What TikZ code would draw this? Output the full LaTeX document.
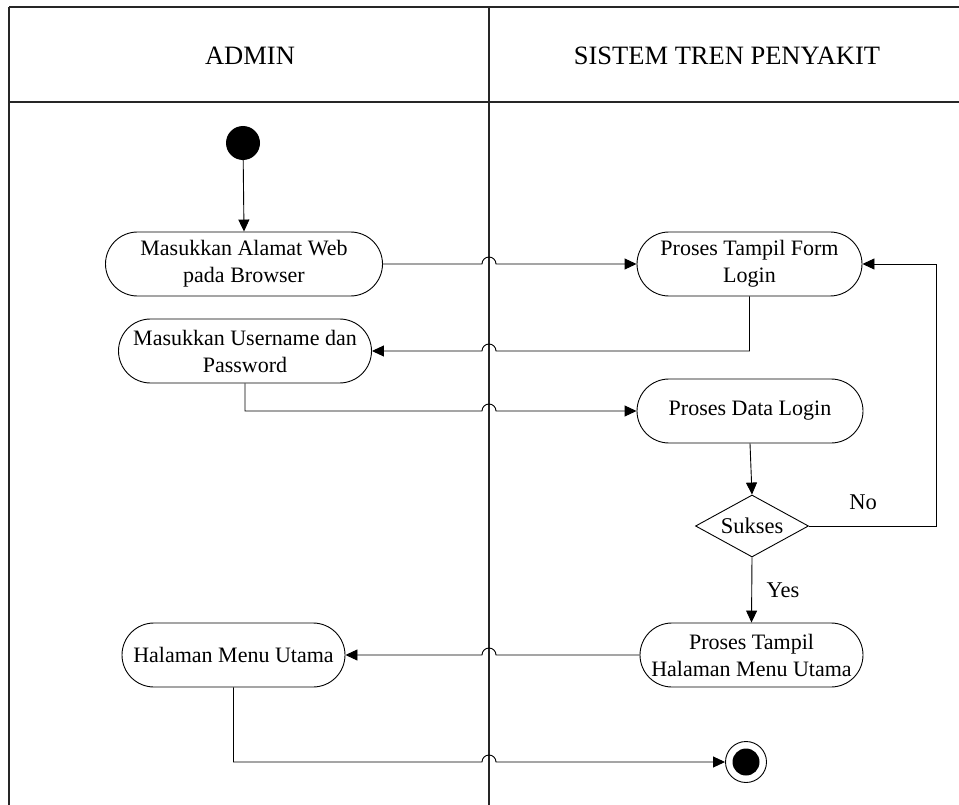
\documentclass[tikz,border=0pt]{standalone}
\usepackage{fontspec}
\setmainfont{Liberation Serif}
\usetikzlibrary{arrows.meta,shapes.geometric,calc}
\begin{document}
\begin{tikzpicture}[x=1pt,y=-1pt,
  lane/.style={line width=1.1pt,draw=black!85},
  act/.style={draw,line width=0.9pt,rounded corners=32pt,minimum height=64pt,inner sep=0pt,align=center,font=\fontsize{22}{27}\selectfont},
  dec/.style={draw,line width=0.9pt,diamond,aspect=1.82,minimum width=113pt,minimum height=62pt,inner sep=0pt,font=\fontsize{22.5}{27}\selectfont},
  flow/.style={line width=0.9pt,-{Triangle[length=12pt,width=11pt]}},
  hdr/.style={font=\fontsize{26.5}{32}\selectfont,inner sep=0pt},
  lbl/.style={font=\fontsize{22.5}{27}\selectfont,inner sep=0pt}]
\useasboundingbox (0,0) rectangle (959,805);
% swimlanes
\coordinate (tl) at (9,7);
\coordinate (mid) at (489,7);
\coordinate (tr) at (959,7);
\draw[lane] (tl) -- (tr);
\draw[lane] (9,102) -- (959,102);
\draw[lane] (tl) -- (9,805);
\draw[lane] (mid) -- (489,805);
\node[hdr] (h1) at (250,56) {ADMIN};
\node[hdr] (h2) at (727,56) {SISTEM TREN PENYAKIT};
% nodes
\node[circle,fill,minimum size=34pt,inner sep=0pt] (start) at (243,143) {};
\node[act,minimum width=277pt] (A) at (244,264) {Masukkan Alamat Web\\pada Browser};
\node[act,minimum width=253pt] (B) at (245,351) {Masukkan Username dan\\Password};
\node[act,minimum width=225pt] (C) at (749.5,264) {Proses Tampil Form\\Login};
\node[act,minimum width=226pt] (D) at (750,411) {Proses Data Login};
\node[dec] (S) at (752,526) {Sukses};
\node[act,minimum width=223pt] (E) at (751.5,655) {Proses Tampil\\Halaman Menu Utama};
\node[act,minimum width=223pt] (F) at (233.5,655) {Halaman Menu Utama};
\node[circle,draw,line width=0.9pt,minimum size=41pt,inner sep=0pt] (end) at (746,762) {};
\node[circle,fill,minimum size=27pt,inner sep=0pt] (endin) at (end) {};
\coordinate (rx) at (936,526);
% connectors
\draw[flow] (start) -- (A.north);
\draw[flow] (A.east) -- ([xshift=-7pt]A.east -| mid) arc[start angle=180,end angle=0,radius=7pt] -- (C.west);
\draw[flow] (C.south) -- (C.south |- B.east) -- ([xshift=7pt]B.east -| mid) arc[start angle=0,end angle=180,radius=7pt] -- (B.east);
\draw[flow] (B.south) -- (B.south |- D.west) -- ([xshift=-7pt]D.west -| mid) arc[start angle=180,end angle=0,radius=7pt] -- (D.west);
\draw[flow] (D.south) -- (S.north);
\draw[flow] (S.east) -- (rx) -- (rx |- C.east) -- (C.east);
\draw[flow] (S.south) -- (E.north);
\draw[flow] (E.west) -- ([xshift=7pt]E.west -| mid) arc[start angle=0,end angle=180,radius=7pt] -- (F.east);
\draw[flow] (F.south) -- (F.south |- end.west) -- ([xshift=-7pt]end.west -| mid) arc[start angle=180,end angle=0,radius=7pt] -- (end.west);
\node[lbl] (no) at (863,502) {No};
\node[lbl] (yes) at (783,590) {Yes};
\end{tikzpicture}
\end{document}
